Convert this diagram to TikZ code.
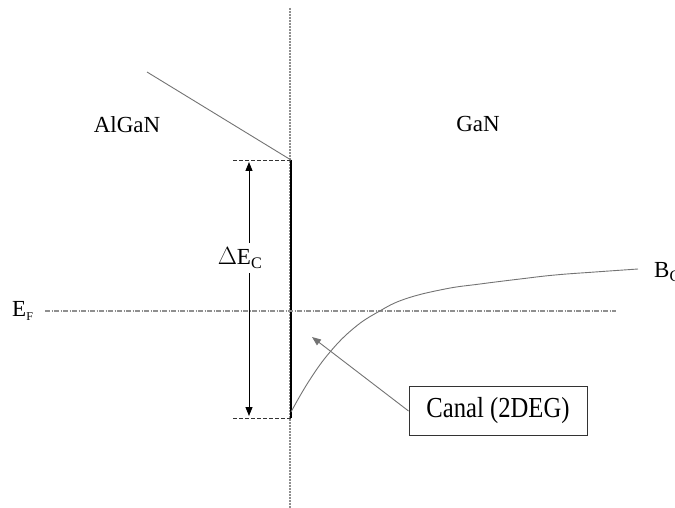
\documentclass[tikz,border=0pt]{standalone}
\usepackage{fontspec}
\setmainfont{Liberation Serif}
\usetikzlibrary{arrows.meta}
\definecolor{linegray}{gray}{0.45}
\begin{document}
\begin{tikzpicture}[x=1pt,y=-1pt,
  lbl/.style={inner sep=0pt, font=\fontsize{23}{26}\selectfont},
  thin gray/.style={draw=linegray, line width=0.9pt},
  guide/.style={draw=linegray!80, line width=1.2pt, dash pattern=on 2pt off 1pt},
  fermi/.style={draw=linegray!80, line width=1.1pt, dash pattern=on 5pt off 1.5pt on 1pt off 1.5pt},
  edge dash/.style={draw=black!80, line width=0.9pt, dash pattern=on 4pt off 2pt},
  tip/.style={-{Triangle[length=9pt,width=7pt]}},
]
\useasboundingbox (0,0) rectangle (675,508);

% interface
\coordinate (itop) at (290,8);
\coordinate (ibot) at (290,508);
\draw[guide] (itop) -- (ibot);

% band offset corners
\coordinate (ctop) at (291,160);
\coordinate (cbot) at (291,418);
\coordinate (dtop) at (233,160);
\coordinate (dbot) at (233,418);
\draw[line width=1.6pt] (ctop) -- (cbot);
\draw[edge dash] (dtop) -- (ctop);
\draw[edge dash] (dbot) -- (cbot);

% AlGaN conduction band
\coordinate (aleft) at (147,72);
\draw[thin gray] (aleft) -- (ctop);

% layer labels
\node[lbl] (algan) at (127,125) {AlGaN};
\node[lbl] (gan) at (478,124) {GaN};

% conduction band offset
\node[lbl] (dec) at (240,258) {$\Delta$E\textsubscript{C}};
\coordinate (aup) at (249,162);
\coordinate (adn) at (249,416);
\coordinate (amu) at (249,243);
\coordinate (amd) at (249,273);
\draw[line width=0.9pt, tip] (amu) -- (aup);
\draw[line width=0.9pt, tip] (amd) -- (adn);

% Fermi level
\node[lbl, anchor=west] (ef) at (12,311) {E\textsubscript{\fontsize{12}{13}\selectfont F}};
\coordinate (fl) at (45,311);
\coordinate (fr) at (616,311);
\draw[fermi] (fl) -- (fr);

% GaN conduction band bending
\draw[thin gray] plot[smooth, tension=0.7] coordinates {
  (291,412) (309,381) (330,352) (354,328) (378,312) (405,299)
  (445,289) (480,284) (520,279) (555,275) (595,272) (638,269)};
\node[lbl, anchor=west] (bc) at (654,272) {B\textsubscript{C}};

% 2DEG channel
\node[draw=black!80, line width=0.9pt, inner xsep=8pt, inner ysep=6pt,
      font=\fontsize{29}{32}\selectfont, minimum width=178pt, minimum height=49pt]
      (canal) at (498,411) {\scalebox{0.85}[1]{Canal (2DEG)}};
\coordinate (ctip) at (312,337);
\draw[thin gray, tip] (canal.west) -- (ctip);
\end{tikzpicture}
\end{document}
